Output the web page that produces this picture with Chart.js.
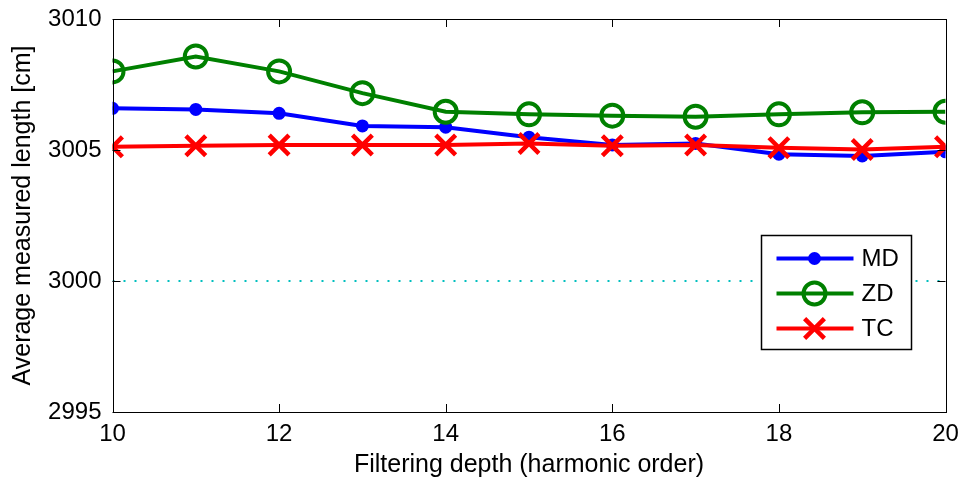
<!DOCTYPE html>
<html lang="en">
  <head>
    <meta charset="UTF-8" />
    <title>Average measured length</title>
    <style>
      * {
        box-sizing: border-box;
        margin: 0;
        padding: 0;
      }
      html,
      body {
        width: 964px;
        height: 483px;
        background: white;
        overflow: hidden;
      }
      .chart__container {
        position: relative;
        width: 964px;
        height: 483px;
      }
    </style>
  </head>
  <body>
    <div class="chart__container">
      <canvas id="lengthChart" width="964" height="483"></canvas>
    </div>
    <script src="https://cdn.jsdelivr.net/npm/chart.js"></script>
    <script>
      // filtering depth (harmonic order)
      const depths = [10, 11, 12, 13, 14, 15, 16, 17, 18, 19, 20];
      const mdValues = [3006.59, 3006.55, 3006.4, 3005.92, 3005.87, 3005.49, 3005.19, 3005.25, 3004.84, 3004.77, 3004.93];
      const zdValues = [3008.0, 3008.57, 3008.0, 3007.17, 3006.46, 3006.36, 3006.31, 3006.27, 3006.36, 3006.44, 3006.46];
      const tcValues = [3005.12, 3005.16, 3005.19, 3005.19, 3005.19, 3005.25, 3005.16, 3005.19, 3005.09, 3005.02, 3005.12];
      const trueLength = [3000, 3000];
      const trueRange = [10, 20];
      const xTicks = [10, 12, 14, 16, 18, 20];
      const yTicks = [2995, 3000, 3005, 3010];

      const FONT = "'Liberation Sans', Arial, Helvetica, sans-serif";
      const FONT_SIZE = 24;
      const TITLE_SIZE = 25;

      function points(xs, ys) {
        return xs.map((x, i) => ({ x: x, y: ys[i] }));
      }

      // MATLAB style box with inward ticks
      const boxPlugin = {
        id: "box",
        afterDatasetsDraw(chart) {
          const { ctx, chartArea: a, scales } = chart;
          ctx.save();
          ctx.strokeStyle = "#000";
          ctx.lineWidth = 1;
          ctx.beginPath();
          xTicks.forEach((t) => {
            const px = Math.round(scales.x.getPixelForValue(t)) + 0.5;
            ctx.moveTo(px, a.bottom);
            ctx.lineTo(px, a.bottom - 8);
            ctx.moveTo(px, a.top);
            ctx.lineTo(px, a.top + 8);
          });
          yTicks.forEach((t) => {
            const py = Math.round(scales.y.getPixelForValue(t)) + 0.5;
            ctx.moveTo(a.left, py);
            ctx.lineTo(a.left + 8, py);
            ctx.moveTo(a.right, py);
            ctx.lineTo(a.right - 8, py);
          });
          ctx.stroke();
          ctx.strokeRect(
            Math.round(a.left) + 0.5,
            Math.round(a.top) + 0.5,
            Math.round(a.right - a.left),
            Math.round(a.bottom - a.top)
          );
          ctx.restore();
        },
      };

      // legend box inside the plot, lower right
      const legendPlugin = {
        id: "matlabLegend",
        afterDraw(chart) {
          const { ctx, chartArea: a } = chart;
          const w = 150;
          const h = 114;
          const left = Math.round(a.right - 35 - w) + 0.5;
          const top = Math.round(a.bottom - 63 - h) + 0.5;
          ctx.save();
          ctx.fillStyle = "#fff";
          ctx.fillRect(left, top, w, h);
          ctx.strokeStyle = "#000";
          ctx.lineWidth = 1.5;
          ctx.strokeRect(left, top, w, h);
          const items = chart.data.datasets.filter((d) => d.label).reverse();
          items.forEach((d, i) => {
            const y = top + 23 + i * 35;
            ctx.strokeStyle = d.borderColor;
            ctx.lineWidth = d.borderWidth;
            ctx.beginPath();
            ctx.moveTo(left + 15, y);
            ctx.lineTo(left + 92, y);
            ctx.stroke();
            ctx.fillStyle = d.pointBackgroundColor;
            ctx.strokeStyle = d.borderColor;
            ctx.lineWidth = d.pointBorderWidth;
            Chart.helpers.drawPoint(
              ctx,
              {
                pointStyle: d.pointStyle,
                radius: d.pointRadius,
                rotation: 0,
                borderWidth: d.pointBorderWidth,
              },
              left + 53,
              y
            );
            ctx.fillStyle = "#000";
            ctx.font = FONT_SIZE + "px " + FONT;
            ctx.textBaseline = "middle";
            ctx.fillText(d.label, left + 100, y + 1);
          });
          ctx.restore();
        },
      };

      new Chart(document.getElementById("lengthChart"), {
        type: "line",
        data: {
          datasets: [
            {
              label: "TC",
              data: points(depths, tcValues),
              borderColor: "#ff0000",
              backgroundColor: "#ff0000",
              pointBackgroundColor: "#ff0000",
              borderWidth: 4,
              pointStyle: "crossRot",
              pointRadius: 14,
              pointBorderWidth: 4.5,
              order: 0,
            },
            {
              label: "ZD",
              data: points(depths, zdValues),
              borderColor: "#008000",
              backgroundColor: "#008000",
              pointBackgroundColor: "rgba(0,0,0,0)",
              borderWidth: 4,
              pointStyle: "circle",
              pointRadius: 11,
              pointBorderWidth: 4,
              order: 1,
            },
            {
              label: "MD",
              data: points(depths, mdValues),
              borderColor: "#0000ff",
              backgroundColor: "#0000ff",
              pointBackgroundColor: "#0000ff",
              borderWidth: 4,
              pointStyle: "circle",
              pointRadius: 6.5,
              pointBorderWidth: 0,
              order: 2,
            },
            {
              label: "",
              data: points(trueRange, trueLength),
              borderColor: "#00bfbf",
              borderWidth: 2,
              borderDash: [2, 9],
              pointRadius: 0,
              order: 3,
            },
          ],
        },
        options: {
          responsive: false,
          animation: false,
          layout: {
            padding: { top: 19, right: 18, left: 0, bottom: 0 },
          },
          plugins: {
            legend: { display: false },
            tooltip: { enabled: false },
          },
          elements: {
            line: { tension: 0 },
          },
          scales: {
            x: {
              type: "linear",
              min: 10,
              max: 20,
              afterFit(scale) {
                scale.height = 71;
                scale.paddingLeft = 0;
                scale.paddingRight = 0;
              },
              afterBuildTicks(scale) {
                scale.ticks = xTicks.map((v) => ({ value: v }));
              },
              grid: { display: false, drawTicks: false },
              border: { display: false },
              ticks: {
                color: "#000",
                padding: 8,
                autoSkip: false,
                maxRotation: 0,
                callback: (v) => String(v),
                font: { family: FONT, size: FONT_SIZE },
              },
              title: {
                display: true,
                text: "Filtering depth (harmonic order)",
                color: "#000",
                padding: { top: 0, bottom: 3 },
                font: { family: FONT, size: TITLE_SIZE },
              },
            },
            y: {
              min: 2995,
              max: 3010,
              afterFit(scale) {
                scale.width = 112.5;
                scale.paddingTop = 0;
                scale.paddingBottom = 0;
              },
              afterBuildTicks(scale) {
                scale.ticks = yTicks.map((v) => ({ value: v }));
              },
              grid: { display: false, drawTicks: false },
              border: { display: false },
              ticks: {
                color: "#000",
                padding: 11,
                autoSkip: false,
                callback: (v) => String(v),
                font: { family: FONT, size: FONT_SIZE },
              },
              title: {
                display: true,
                text: "Average measured length [cm]",
                color: "#000",
                padding: { top: 8, bottom: 0 },
                font: { family: FONT, size: TITLE_SIZE },
              },
            },
          },
        },
        plugins: [boxPlugin, legendPlugin],
      });
    </script>
  </body>
</html>
